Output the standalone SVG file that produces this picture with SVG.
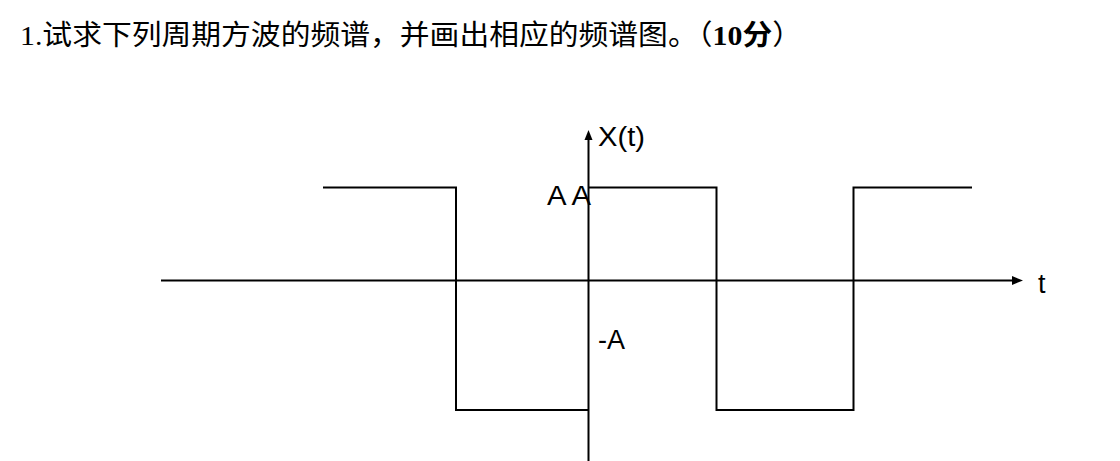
<svg xmlns="http://www.w3.org/2000/svg" width="1120" height="461" viewBox="0 0 1120 461">
<style>
.ln{stroke:#000;stroke-width:2;fill:none}
.lbl{font-family:"Liberation Sans",Arial,sans-serif;font-size:27px;fill:#000}
.ttl{font-family:"Liberation Serif","Noto Sans CJK SC",serif;font-size:28px;fill:#000}
</style>
<rect width="1120" height="461" fill="#fff"/>
<text id="title" class="ttl" x="20" y="45" textLength="782" lengthAdjust="spacingAndGlyphs">1.试求下列周期方波的频谱，并画出相应的频谱图。（<tspan font-weight="bold">10分</tspan>）</text>
<g id="axes">
<line class="ln" x1="161" y1="280.5" x2="1014" y2="280.5"/>
<polygon points="1023,280.5 1012,276 1012,285" fill="#000"/>
<line class="ln" x1="588.5" y1="138" x2="588.5" y2="461"/>
<polygon points="588.5,130 584.5,140 592.5,140" fill="#000"/>
</g>
<g id="waveform">
<polyline class="ln" points="323,187.5 456,187.5 456,410 588.5,410"/>
<polyline class="ln" points="588.5,187.5 716.5,187.5 716.5,410 853.5,410 853.5,187.5 972,187.5"/>
</g>
<g id="labels">
<text class="lbl" x="598" y="146" textLength="47" lengthAdjust="spacingAndGlyphs">X(t)</text>
<text class="lbl" x="547" y="205" textLength="44" lengthAdjust="spacingAndGlyphs">A A</text>
<text class="lbl" x="598" y="349">-A</text>
<text class="lbl" x="1038" y="293" font-size="25">t</text>
</g>
</svg>
